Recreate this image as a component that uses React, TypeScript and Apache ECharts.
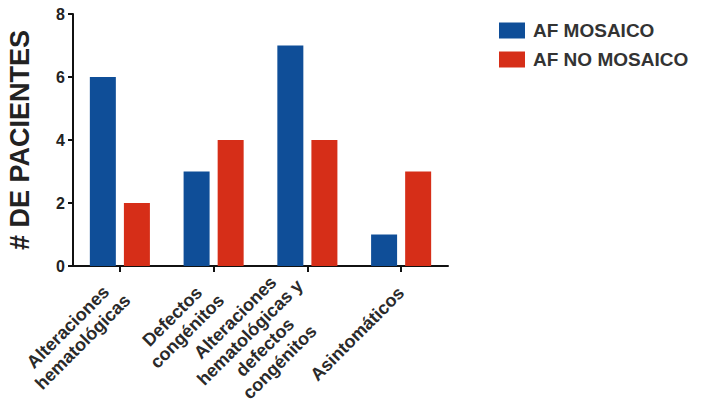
import React, { useEffect, useRef } from "react";
import * as echarts from "echarts";

const categories = [
  "Alteraciones\nhematológicas",
  "Defectos\ncongénitos",
  "Alteraciones\nhematológicas y\ndefectos\ncongénitos",
  "Asintomáticos",
];
const seriesNames = ["AF MOSAICO", "AF NO MOSAICO"];
const mosaico = [6, 3, 7, 1];
const noMosaico = [2, 4, 4, 3];
const yTicks = { min: 0, max: 8, interval: 2 };

const FONT = "'Liberation Sans', Arial, Helvetica, sans-serif";
const BLUE = "#0f4e98";
const RED = "#d62e18";

export default function App() {
  const ref = useRef<HTMLDivElement>(null);
  useEffect(() => {
    if (!ref.current) return;
    const chart = echarts.init(ref.current, undefined, { renderer: "svg" });
    chart.setOption({
      animation: false,
      backgroundColor: "#ffffff",
      textStyle: { fontFamily: FONT },
      legend: {
        orient: "vertical",
        left: 499,
        top: 21,
        padding: 0,
        itemWidth: 26,
        itemHeight: 16,
        itemGap: 10,
        icon: "rect",
        textStyle: {
          fontFamily: FONT,
          fontSize: 19,
          fontWeight: "bold",
          color: "#333",
          padding: [0, 0, 0, 3],
        },
        data: seriesNames,
      },
      grid: {
        left: 73,
        right: 253,
        top: 14,
        bottom: 147,
        outerBoundsMode: "none",
        containLabel: false,
      },
      xAxis: {
        type: "category",
        data: categories,
        boundaryGap: true,
        axisLine: { show: true, lineStyle: { color: "#111", width: 2 } },
        axisTick: {
          show: true,
          alignWithLabel: true,
          length: 6,
          lineStyle: { color: "#111", width: 2 },
        },
        axisLabel: {
          rotate: 45,
          interval: 0,
          margin: 24,
          fontFamily: FONT,
          fontSize: 18,
          fontWeight: "bold",
          color: "#2a2a2a",
          lineHeight: 21,
          formatter: (v: string) =>
            v
              .split("\n")
              .map((l) => `{c|${l}}`)
              .join("\n"),
          rich: {
            c: {
              align: "center",
              fontFamily: FONT,
              fontSize: 18,
              fontWeight: "bold",
              color: "#2a2a2a",
              lineHeight: 21,
            },
          },
        },
        splitLine: { show: false },
      },
      yAxis: {
        type: "value",
        min: yTicks.min,
        max: yTicks.max,
        interval: yTicks.interval,
        name: "# DE PACIENTES",
        nameLocation: "middle",
        nameGap: 40,
        nameTextStyle: {
          fontFamily: FONT,
          fontSize: 27,
          fontWeight: "bold",
          color: "#222",
        },
        axisLine: { show: true, lineStyle: { color: "#111", width: 2 } },
        axisTick: { show: true, length: 5, lineStyle: { color: "#111", width: 2 } },
        axisLabel: {
          margin: 8,
          fontFamily: FONT,
          fontSize: 16,
          fontWeight: "bold",
          color: "#222",
        },
        splitLine: { show: false },
      },
      series: [
        {
          name: seriesNames[0],
          type: "bar",
          data: mosaico,
          barWidth: 26,
          barGap: "31%",
          itemStyle: { color: BLUE },
        },
        {
          name: seriesNames[1],
          type: "bar",
          data: noMosaico,
          barWidth: 26,
          barGap: "31%",
          itemStyle: { color: RED },
        },
      ],
    });
    return () => chart.dispose();
  }, []);
  return (
    <div
      ref={ref}
      style={{ position: "fixed", left: 0, top: 0, width: 701, height: 413, background: "#fff" }}
    />
  );
}
